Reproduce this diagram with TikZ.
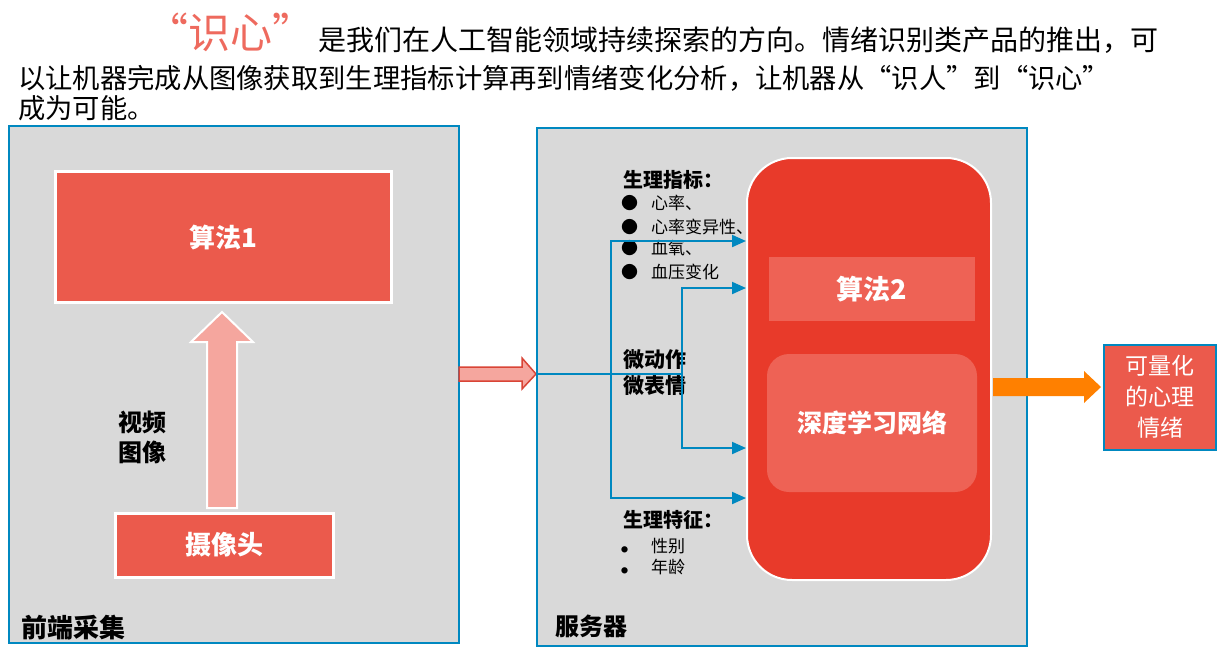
\documentclass[tikz,border=0pt]{standalone}
\usepackage{fontspec}
\setmainfont{Noto Sans CJK SC}
\usetikzlibrary{positioning, arrows.meta}
\definecolor{panelblue}{HTML}{0088C0}
\definecolor{panelgray}{HTML}{D9D9D9}
\definecolor{boxred}{HTML}{EB5A4C}
\definecolor{deepred}{HTML}{E83A2A}
\definecolor{softred}{HTML}{EE6255}
\definecolor{pinkfill}{HTML}{F5A69E}
\definecolor{pinkedge}{HTML}{D94436}
\definecolor{titlered}{HTML}{EE6A5E}
\definecolor{flowor}{HTML}{FF8000}
\tikzset{
    x=1pt, y=-1pt, % one unit is one pixel of the reference
    >={Triangle[length=14pt, width=12pt]}, % solid heads on the blue lines
    panel/.style={draw=panelblue, line width=2pt, fill=panelgray, anchor=north west, inner sep=0pt}, % the two big areas
    redbox/.style={draw=white, line width=3pt, fill=boxred, text=white, font=\bfseries\fontsize{26}{30}\selectfont},
    tag/.style={font=\bfseries\fontsize{21}{26}\selectfont, align=left, inner sep=0pt, anchor=west},
    item/.style={font=\fontsize{17}{20}\selectfont, inner sep=0pt, anchor=west},
    para/.style={font=\fontsize{28}{33}\selectfont, inner sep=0pt, anchor=west},
    flow/.style={->, draw=panelblue, line width=2pt},
}
\begin{document}
\begin{tikzpicture}
    \useasboundingbox (0,0) rectangle (1217,653);
    % heading
    \node[para, text=titlered, font=\fontsize{42}{44}\selectfont] (mark) at (146,32) {“识心”};
    \node[para] (line1) at (318,40) {是我们在人工智能领域持续探索的方向。情绪识别类产品的推出，可};
    \node[para, font=\fontsize{27.3}{33}\selectfont] (line2) at (18,78) {以让机器完成从图像获取到生理指标计算再到情绪变化分析，让机器从“识人”到“识心”};
    \node[para, font=\fontsize{27.3}{33}\selectfont] (line3) at (18,108) {成为可能。};

    % front end
    \node[panel, minimum width=450, minimum height=517] (front) at (8,125) {};
    \node[redbox, minimum width=336, minimum height=131] (algo1) at (223,237) {算法1};
    \node[redbox, minimum width=218, minimum height=64] (camera) at (224,545) {摄像头};
    \fill[pinkfill, draw=white, line width=2pt] (207,508) -- (207,342) -- (191,342) -- (222,312)
        -- (253,342) -- (237,342) -- (237,508) -- cycle;
    \node[tag, font=\bfseries\fontsize{24}{30}\selectfont] (video) at (118,437) {视频\\图像};
    \node[tag, font=\bfseries\fontsize{26}{30}\selectfont] (fronttag) at (21,628) {前端采集};

    % server
    \node[panel, minimum width=490, minimum height=518] (server) at (536,127) {};
    \fill[pinkfill, draw=pinkedge, line width=1.5pt] (459,367) -- (522,367) -- (522,358) -- (536,374)
        -- (522,389) -- (522,381) -- (459,381) -- cycle;
    \node[draw=white, line width=2pt, fill=deepred, rounded corners=45, minimum width=244,
        minimum height=422, anchor=north west] (wrap) at (746,157) {};
    \node[fill=softred, minimum width=206, minimum height=64, text=white,
        font=\bfseries\fontsize{27}{30}\selectfont] (algo2) at (872,289) {算法2};
    \node[fill=softred, rounded corners=22, minimum width=210, minimum height=138, text=white,
        font=\bfseries\fontsize{25}{30}\selectfont] (dnn) at (872,423) {深度学习网络};
    \node[tag, font=\bfseries\fontsize{24}{30}\selectfont] (servertag) at (555,626) {服务器};

    % inputs of the network
    \node[tag, font=\bfseries\fontsize{20}{24}\selectfont] (vitals) at (623,180) {生理指标：};
    \node[item] (heart) at (621,203) {\makebox[30pt][l]{●}心率、};
    \node[item] (hrv) at (621,227) {\makebox[30pt][l]{●}心率变异性、};
    \node[item] (oxygen) at (621,248) {\makebox[30pt][l]{●}血氧、};
    \node[item] (pressure) at (621,272) {\makebox[30pt][l]{●}血压变化};
    \node[tag, font=\bfseries\fontsize{21}{26}\selectfont, anchor=north west] (micro) at (623,349) {微动作\\微表情};
    \node[tag, font=\bfseries\fontsize{20}{24}\selectfont] (traits) at (623,520) {生理特征：};
    \node[item] (sex) at (621,546) {\makebox[30pt][l]{\fontsize{7}{8}\selectfont ●}性别};
    \node[item] (age) at (621,567) {\makebox[30pt][l]{\fontsize{7}{8}\selectfont ●}年龄};

    \coordinate (split) at (536,374);
    \coordinate (busA) at (611,374);
    \coordinate (busB) at (682,374);
    \draw[panelblue, line width=2pt] (split) -- (busB);
    \draw[flow] (busA) |- (wrap.west |- 0,241);
    \draw[flow] (busA) |- (wrap.west |- 0,498);
    \draw[flow] (busB) |- (wrap.west |- 0,288);
    \draw[flow] (busB) |- (wrap.west |- 0,448);

    % output
    \fill[flowor] (993,378) -- (1084,378) -- (1084,371) -- (1101,387) -- (1084,403) -- (1084,396)
        -- (993,396) -- cycle;
    \node[draw=panelblue, line width=2pt, fill=boxred, minimum width=112, minimum height=105, text=white,
        align=center, font=\fontsize{23}{31}\selectfont] (result) at (1160,397) {可量化\\的心理\\情绪};
\end{tikzpicture}
\end{document}
